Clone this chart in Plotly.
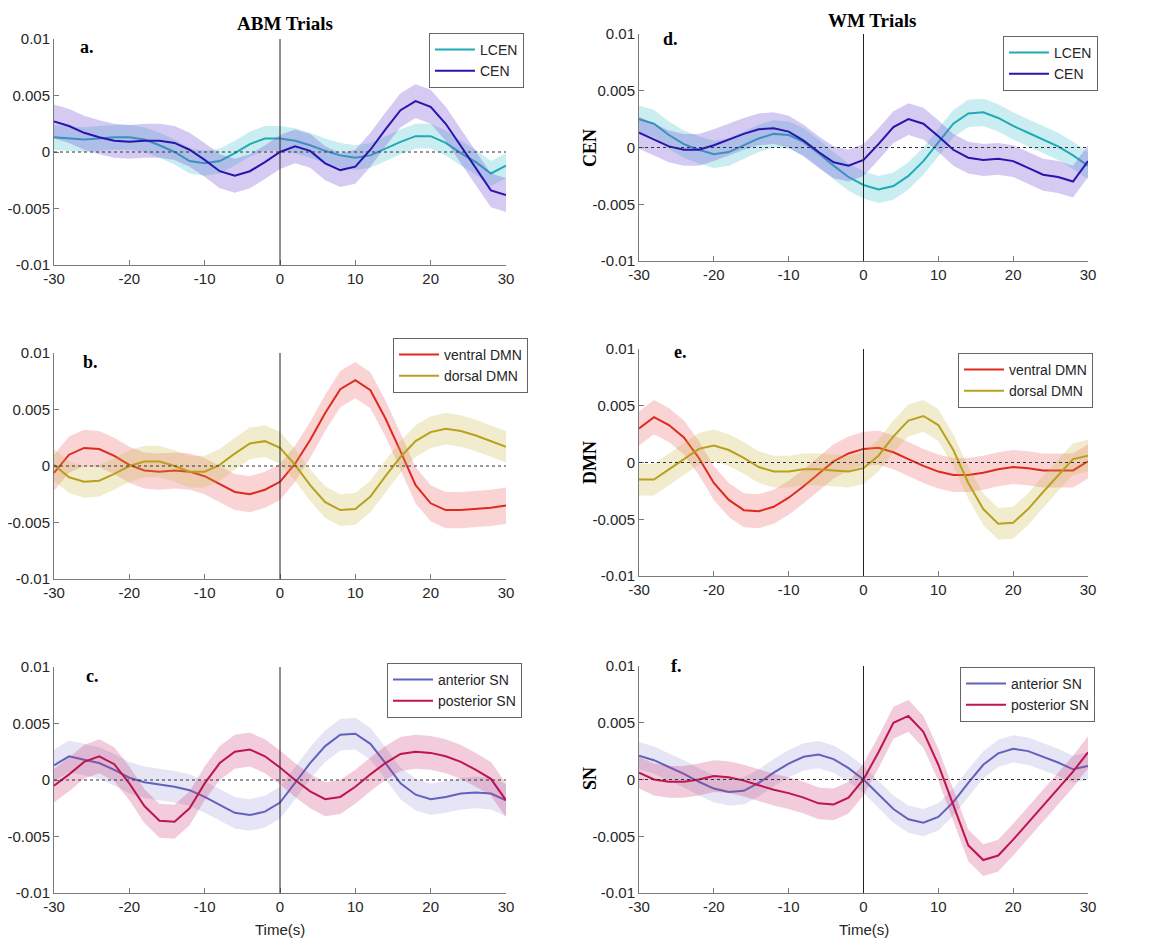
import plotly.graph_objects as go

W, H = 1151, 940
time = list(range(-30, 31, 2))

# ---------------- data (values x 1e-3) ----------------
abm_lcen = [1.3, 1.2, 1.1, 1.2, 1.3, 1.3, 1.1, 0.6, 0.0, -0.8, -1.0, -0.8, -0.1, 0.7, 1.2, 1.2,
            1.0, 0.6, 0.1, -0.3, -0.5, -0.3, 0.3, 0.9, 1.4, 1.4, 0.8, -0.1, -0.9, -1.9, -1.2]
abm_cen = [2.7, 2.3, 1.7, 1.3, 1.0, 0.9, 1.0, 1.0, 0.8, 0.2, -0.7, -1.7, -2.1, -1.7, -0.9, 0.0,
           0.5, 0.1, -1.0, -1.6, -1.3, 0.2, 2.0, 3.7, 4.5, 4.0, 2.5, 0.5, -1.5, -3.4, -3.8]
wm_lcen = [2.5, 2.1, 1.1, 0.3, -0.2, -0.6, -0.4, 0.2, 0.8, 1.2, 1.1, 0.5, -0.5, -1.6, -2.6, -3.3,
           -3.7, -3.4, -2.5, -1.2, 0.4, 2.1, 3.0, 3.1, 2.6, 1.9, 1.3, 0.7, 0.1, -0.7, -1.6]
wm_cen = [1.3, 0.7, 0.1, -0.2, -0.2, 0.2, 0.7, 1.2, 1.6, 1.7, 1.4, 0.6, -0.4, -1.3, -1.6, -1.1,
          0.3, 1.8, 2.5, 2.1, 1.0, -0.2, -0.9, -1.1, -1.0, -1.2, -1.8, -2.4, -2.6, -3.0, -1.2]
abm_vdmn = [-0.6, 1.0, 1.6, 1.5, 0.9, 0.1, -0.4, -0.5, -0.4, -0.5, -0.9, -1.6, -2.3, -2.5, -2.1, -1.4,
            0.2, 2.3, 4.7, 6.8, 7.6, 6.7, 4.2, 1.3, -1.7, -3.3, -3.9, -3.9, -3.8, -3.7, -3.5]
abm_ddmn = [0.1, -1.0, -1.4, -1.3, -0.7, 0.0, 0.4, 0.4, 0.0, -0.5, -0.5, 0.1, 1.1, 2.0, 2.2, 1.6,
            0.1, -1.7, -3.2, -3.9, -3.8, -2.7, -0.9, 0.8, 2.2, 3.0, 3.3, 3.1, 2.7, 2.2, 1.7]
wm_vdmn = [3.0, 4.0, 3.3, 2.2, 0.4, -1.8, -3.3, -4.2, -4.3, -3.9, -3.1, -2.1, -1.0, 0.1, 0.8, 1.2,
           1.3, 0.9, 0.3, -0.3, -0.8, -1.1, -1.1, -0.9, -0.6, -0.4, -0.5, -0.7, -0.7, -0.7, 0.1]
wm_ddmn = [-1.5, -1.5, -0.6, 0.3, 1.2, 1.5, 1.1, 0.4, -0.4, -0.8, -0.8, -0.6, -0.6, -0.7, -0.8, -0.5,
           0.6, 2.3, 3.7, 4.1, 3.3, 1.1, -1.8, -4.1, -5.4, -5.3, -4.1, -2.6, -1.1, 0.3, 0.6]
abm_asn = [1.3, 2.1, 1.8, 1.5, 0.9, 0.2, -0.2, -0.4, -0.6, -0.9, -1.5, -2.2, -2.9, -3.1, -2.8, -2.0,
           -0.3, 1.5, 3.0, 4.0, 4.1, 3.2, 1.5, -0.3, -1.3, -1.7, -1.5, -1.2, -1.1, -1.2, -1.8]
abm_psn = [-0.5, 0.5, 1.6, 2.1, 1.4, -0.3, -2.3, -3.6, -3.7, -2.5, -0.3, 1.5, 2.5, 2.7, 2.1, 1.1,
           0.0, -1.0, -1.7, -1.5, -0.6, 0.5, 1.5, 2.3, 2.5, 2.4, 2.1, 1.6, 0.9, 0.1, -1.8]
wm_asn = [2.1, 1.7, 1.1, 0.5, -0.2, -0.8, -1.1, -1.0, -0.3, 0.6, 1.4, 2.0, 2.2, 1.8, 1.0, 0.0,
          -1.3, -2.6, -3.5, -3.8, -3.3, -2.0, -0.3, 1.3, 2.3, 2.7, 2.5, 2.0, 1.5, 0.9, 1.2]
wm_psn = [0.6, 0.0, -0.2, -0.2, 0.0, 0.3, 0.2, -0.1, -0.5, -0.9, -1.2, -1.6, -2.1, -2.2, -1.6, 0.0,
          2.4, 5.0, 5.6, 4.2, 1.3, -2.3, -5.8, -7.1, -6.7, -5.3, -3.8, -2.3, -0.8, 0.7, 2.4]

# half-width of shaded error bands (x 1e-3)
err = {"abm_lcen": 1.1, "abm_cen": 1.5, "wm_lcen": 1.2, "wm_cen": 1.4,
       "abm_vdmn": 1.6, "abm_ddmn": 1.4, "wm_vdmn": 1.5, "wm_ddmn": 1.4,
       "abm_asn": 1.4, "abm_psn": 1.5, "wm_asn": 1.2, "wm_psn": 1.4}

y_ticks = [-0.01, -0.005, 0, 0.005, 0.01]
y_tick_text = ["-0.01", "-0.005", "0", "0.005", "0.01"]
x_ticks = [-30, -20, -10, 0, 10, 20, 30]
x_tick_text = ["-30", "-20", "-10", "0", "10", "20", "30"]

# colours: line, band
C = {
    "LCEN": ("#1FAAB6", "rgba(40,185,195,0.25)"),
    "CEN": ("#2A14AE", "rgba(120,90,215,0.32)"),
    "ventral DMN": ("#DE2A1E", "rgba(235,80,85,0.25)"),
    "dorsal DMN": ("#B9A01E", "rgba(200,180,60,0.25)"),
    "anterior SN": ("#6262BE", "rgba(125,125,205,0.2)"),
    "posterior SN": ("#BE1450", "rgba(205,50,110,0.25)"),
}

# panel: (axis idx, pixel box [x0,x1,ytop,ybottom], series list, letter pos, legend pos)
panels = [
    (1, (54, 506, 39, 265), [("LCEN", abm_lcen, "abm_lcen"), ("CEN", abm_cen, "abm_cen")], "a.", (87, 47), (429, 33)),
    (2, (54, 506, 353, 579), [("ventral DMN", abm_vdmn, "abm_vdmn"), ("dorsal DMN", abm_ddmn, "abm_ddmn")], "b.", (90, 362), (393, 338)),
    (3, (54, 506, 667, 893), [("anterior SN", abm_asn, "abm_asn"), ("posterior SN", abm_psn, "abm_psn")], "c.", (92, 676), (387, 663)),
    (4, (639, 1088, 34, 261), [("LCEN", wm_lcen, "wm_lcen"), ("CEN", wm_cen, "wm_cen")], "d.", (670, 39), (1003, 36)),
    (5, (639, 1088, 349, 576), [("ventral DMN", wm_vdmn, "wm_vdmn"), ("dorsal DMN", wm_ddmn, "wm_ddmn")], "e.", (680, 352), (958, 353)),
    (6, (639, 1088, 666, 893), [("anterior SN", wm_asn, "wm_asn"), ("posterior SN", wm_psn, "wm_psn")], "f.", (676, 666), (960, 667)),
]

fig = go.Figure()
layout = dict(width=W, height=H, margin=dict(l=0, r=0, t=0, b=0, autoexpand=False),
              paper_bgcolor="white", plot_bgcolor="white", showlegend=True,
              font=dict(family="Liberation Sans, Arial", size=14, color="#262626"))
shapes, annotations = [], []

def px(x):
    return x / W

def py(y):
    return 1 - y / H

AX_COL = "#7a7a7a"
TICKFONT = dict(family="Liberation Sans, Arial", size=15, color="#262626")
for idx, (x0, x1, yt, yb), series, letter, (lx, ly), (gx, gy) in panels:
    sfx = "" if idx == 1 else str(idx)
    xa, ya = "x" + sfx, "y" + sfx
    leg = "legend" if idx == 1 else "legend" + str(idx)
    layout["xaxis" + sfx] = dict(domain=[px(x0), px(x1)], anchor=ya, range=[-30, 30],
                                 tickvals=x_ticks, ticktext=x_tick_text, ticks="inside", ticklen=5,
                                 tickcolor=AX_COL, showline=True, linecolor=AX_COL, linewidth=1,
                                 showgrid=False, zeroline=False, tickfont=TICKFONT, automargin=False)
    layout["yaxis" + sfx] = dict(domain=[py(yb), py(yt)], anchor=xa, range=[-0.01, 0.01],
                                 tickvals=y_ticks, ticktext=y_tick_text, ticks="inside", ticklen=5,
                                 tickcolor=AX_COL, showline=True, linecolor=AX_COL, linewidth=1,
                                 showgrid=False, zeroline=False, tickfont=TICKFONT, automargin=False)
    for name, vals, key in series:
        lc, bc = C[name]
        v = [a * 1e-3 for a in vals]
        e = err[key] * 1e-3
        upper = [a + e for a in v]
        lower = [a - e for a in v]
        fig.add_trace(go.Scatter(x=time + time[::-1], y=upper + lower[::-1], fill="toself",
                                 fillcolor=bc, line=dict(width=0), mode="lines",
                                 hoverinfo="skip", showlegend=False, xaxis=xa, yaxis=ya))
        fig.add_trace(go.Scatter(x=time, y=v, mode="lines", name=name,
                                 line=dict(color=lc, width=2), xaxis=xa, yaxis=ya, legend=leg))
    # zero lines
    shapes.append(dict(type="line", xref=xa, yref=ya + " domain", x0=0, x1=0, y0=0, y1=1,
                       line=dict(color="#222222", width=1)))
    shapes.append(dict(type="line", xref=xa + " domain", yref=ya, x0=0, x1=1, y0=0, y1=0,
                       line=dict(color="#333333", width=1, dash="3px,3px")))
    annotations.append(dict(text="<b>" + letter + "</b>", x=px(lx), y=py(ly), xref="paper", yref="paper",
                            showarrow=False, xanchor="center", yanchor="middle",
                            font=dict(family="Liberation Serif, Times New Roman", size=18, color="black")))
    layout[leg] = dict(x=px(gx), y=py(gy), xanchor="left", yanchor="top", xref="paper", yref="paper",
                       bordercolor="#666666", borderwidth=1, bgcolor="white",
                       font=dict(family="Liberation Sans, Arial", size=14, color="#262626"),
                       tracegroupgap=0, itemwidth=40)

# titles and labels
for txt, x, y in [("ABM Trials", 285, 23), ("WM Trials", 872, 20)]:
    annotations.append(dict(text="<b>" + txt + "</b>", x=px(x), y=py(y), xref="paper", yref="paper",
                            showarrow=False, xanchor="center", yanchor="middle",
                            font=dict(family="Liberation Serif, Times New Roman", size=19, color="black")))
for txt, y in [("CEN", 148), ("DMN", 463), ("SN", 779)]:
    annotations.append(dict(text="<b>" + txt + "</b>", x=px(590), y=py(y), xref="paper", yref="paper",
                            showarrow=False, xanchor="center", yanchor="middle", textangle=-90,
                            font=dict(family="Liberation Serif, Times New Roman", size=18, color="black")))
for x in [280, 864]:
    annotations.append(dict(text="Time(s)", x=px(x), y=py(929), xref="paper", yref="paper",
                            showarrow=False, xanchor="center", yanchor="middle",
                            font=dict(family="Liberation Sans, Arial", size=15, color="#262626")))

layout["shapes"] = shapes
layout["annotations"] = annotations
fig.update_layout(**layout)
fig.write_html("out.html", config={"displayModeBar": False},
               post_script="document.body.style.margin='0px';document.body.style.padding='0px';"
                           "document.body.style.overflow='hidden';")
